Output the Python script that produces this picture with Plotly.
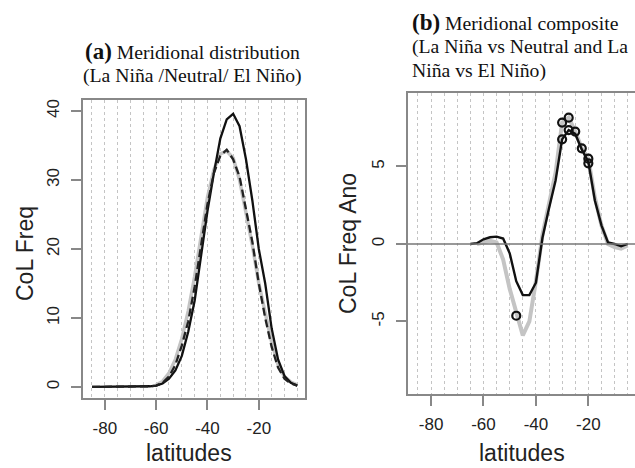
import plotly.graph_objects as go

# ---------------- data ----------------
lat = [-85, -82.5, -80, -77.5, -75, -72.5, -70, -67.5, -65, -62.5, -60, -57.5, -55,
       -52.5, -50, -47.5, -45, -42.5, -40, -37.5, -35, -32.5, -30, -27.5, -25,
       -22.5, -20, -17.5, -15, -12.5, -10, -7.5, -5]

# panel (a): meridional distribution
lanina_a = [0, 0, 0, 0, 0, 0, 0, 0, 0.05, 0.1, 0.2, 0.5, 1.2, 2.4, 4.5, 8.0, 12.5,
            19.0, 25.5, 31.0, 36.0, 38.8, 39.6, 37.8, 33.0, 27.0, 20.0, 15.0, 8.5,
            4.0, 1.6, 0.6, 0.2]
neutral_a = [None, None, None, None, None, None, None, None, None, None, 0.3, 0.8,
             2.0, 4.0, 7.0, 11.0, 16.0, 22.0, 27.5, 31.5, 33.8, 34.2, 33.2, 30.0,
             25.5, 20.5, 15.0, 10.5, 6.5, 3.2, 1.5, 0.7, 0.3]
elnino_a = [0, 0, 0, 0, 0, 0, 0, 0, 0.05, 0.1, 0.2, 0.6, 1.5, 3.2, 6.0, 9.5, 14.5,
            20.5, 26.5, 31.0, 33.5, 34.4, 33.0, 30.5, 26.0, 21.0, 15.0, 10.0, 5.8,
            2.8, 1.2, 0.5, 0.2]

# panel (b): meridional composite anomalies
lat_b = [-65, -62.5, -60, -57.5, -55, -52.5, -50, -47.5, -45, -42.5, -40, -37.5,
         -35, -32.5, -30, -27.5, -25, -22.5, -20, -17.5, -15, -12.5, -10, -7.5, -5]
lan_vs_neu = [0, 0.05, 0.3, 0.43, 0.47, 0.35, -0.6, -2.4, -3.3, -3.3, -2.5, 0.4,
              2.3, 4.1, 6.75, 7.35, 7.1, 6.1, 5.3, 2.8, 1.2, 0.1, 0.0, -0.15, 0.0]
lan_vs_eln = [None, 0.0, 0.1, 0.2, 0.1, -1.0, -2.9, -4.5, -5.9, -5.0, -2.4, 0.6,
              2.6, 4.6, 7.83, 8.15, 7.25, 6.17, 5.5, 3.0, 1.2, 0.0, -0.2, -0.3, -0.1]
sig_lat = [-30, -27.5, -30, -27.5, -25, -22.5, -20, -20, -47.5]
sig_val = [7.83, 8.15, 6.75, 7.35, 7.25, 6.17, 5.5, 5.2, -4.63]

xticks = [-80, -60, -40, -20]
xticklabels = ["-80", "-60", "-40", "-20"]
yticks_a = [0, 10, 20, 30, 40]
yticklabels_a = ["0", "10", "20", "30", "40"]
yticks_b = [-5, 0, 5]
yticklabels_b = ["-5", "0", "5"]

# ---------------- figure ----------------
W, H = 635, 468
def fx(px):
    return px / W
def fy(py):
    return 1 - py / H

GRAY = "#c4c4c4"
fig = go.Figure()

# panel a
fig.add_trace(go.Scatter(x=lat, y=neutral_a, mode="lines", xaxis="x", yaxis="y",
                         line=dict(color=GRAY, width=3.5), showlegend=False))
fig.add_trace(go.Scatter(x=lat, y=lanina_a, mode="lines", xaxis="x", yaxis="y",
                         line=dict(color="#111111", width=2.3), showlegend=False))
fig.add_trace(go.Scatter(x=lat, y=elnino_a, mode="lines", xaxis="x", yaxis="y",
                         line=dict(color="#222222", width=2.3, dash="8px,4px"),
                         showlegend=False))

# panel b
fig.add_trace(go.Scatter(x=lat_b, y=lan_vs_eln, mode="lines", xaxis="x2", yaxis="y2",
                         line=dict(color=GRAY, width=4), showlegend=False))
fig.add_trace(go.Scatter(x=lat_b, y=lan_vs_neu, mode="lines", xaxis="x2", yaxis="y2",
                         line=dict(color="#111111", width=2.4), showlegend=False))
fig.add_trace(go.Scatter(x=sig_lat, y=sig_val, mode="markers", xaxis="x2", yaxis="y2",
                         marker=dict(symbol="circle-open", size=8, color="#111111",
                                     line=dict(width=2.2)), showlegend=False))

axis_common = dict(
    showline=True, linecolor="#888888", linewidth=1.5,
    ticks="outside", ticklen=10, tickcolor="#888888", tickwidth=1.5,
    tickfont=dict(family="Liberation Sans", size=17, color="#222222"),
    zeroline=False, automargin=False,
)
xgrid = dict(showgrid=True, gridcolor=GRAY, gridwidth=1, griddash="3px,3px",
             minor=dict(dtick=5, tick0=-85, showgrid=True, gridcolor=GRAY,
                        gridwidth=1, griddash="3px,3px", ticklen=0))

fig.update_layout(
    width=W, height=H,
    margin=dict(l=0, r=0, t=0, b=0),
    paper_bgcolor="white", plot_bgcolor="white",
    xaxis=dict(domain=[fx(83), fx(305)], range=[-88.5, -2.0], anchor="y",
               tickvals=xticks, ticktext=xticklabels, mirror=True,
               ticklabelstandoff=4, **axis_common, **xgrid),
    yaxis=dict(domain=[fy(398), fy(100)], range=[-1.6, 41.6], anchor="x",
               tickvals=yticks_a, ticktext=yticklabels_a, tickangle=-90,
               mirror=True, showgrid=False, ticklabelstandoff=5, **axis_common),
    xaxis2=dict(domain=[fx(408), 1.0], range=[-88.8, -2.2], anchor="y2",
                tickvals=xticks, ticktext=xticklabels, mirror=True,
                ticklabelstandoff=4, **axis_common, **xgrid),
    yaxis2=dict(domain=[fy(394), fy(93)], range=[-9.68, 9.74], anchor="x2",
                tickvals=yticks_b, ticktext=yticklabels_b, tickangle=-90,
                mirror=False, showgrid=False, ticklabelstandoff=5, **axis_common),
)

# zero line in panel b
fig.add_shape(type="line", xref="x2 domain", yref="y2", x0=0, x1=1, y0=0, y1=0,
              line=dict(color="#777777", width=1.5))

serif = "Liberation Serif"
sans = "Liberation Sans"
TF = 19.7
ann = []
ann.append(dict(text="<b><span style='font-size:23px'>(a)</span></b> Meridional distribution",
                x=fx(192), y=fy(51), xanchor="center", yanchor="middle",
                font=dict(family=serif, size=TF, color="#111111")))
ann.append(dict(text="(La Niña /Neutral/ El Niño)",
                x=fx(192), y=fy(75), xanchor="center", yanchor="middle",
                font=dict(family=serif, size=TF, color="#111111")))
ann.append(dict(text="<b><span style='font-size:23px'>(b)</span></b> Meridional composite",
                x=fx(410), y=fy(22), xanchor="left", yanchor="middle",
                font=dict(family=serif, size=TF, color="#111111")))
ann.append(dict(text="(La Niña vs Neutral and La",
                x=fx(410), y=fy(47), xanchor="left", yanchor="middle",
                font=dict(family=serif, size=TF, color="#111111")))
ann.append(dict(text="Niña vs El Niño)",
                x=fx(410), y=fy(70), xanchor="left", yanchor="middle",
                font=dict(family=serif, size=TF, color="#111111")))
# axis titles
ann.append(dict(text="latitudes", x=fx(189), y=fy(453), xanchor="center", yanchor="middle",
                font=dict(family=sans, size=23, color="#222222")))
ann.append(dict(text="latitudes", x=fx(522), y=fy(453), xanchor="center", yanchor="middle",
                font=dict(family=sans, size=23, color="#222222")))
ann.append(dict(text="CoL Freq", x=fx(25), y=fy(254), xanchor="center", yanchor="middle",
                textangle=-90, font=dict(family=sans, size=23, color="#222222")))
ann.append(dict(text="CoL Freq Ano", x=fx(348), y=fy(244), xanchor="center", yanchor="middle",
                textangle=-90, font=dict(family=sans, size=23, color="#222222")))
for a in ann:
    a.update(xref="paper", yref="paper", showarrow=False)
fig.update_layout(annotations=ann)

fig.write_html("out.html", config={"displayModeBar": False},
               post_script="document.body.style.margin='0';document.body.style.overflow='hidden';")
